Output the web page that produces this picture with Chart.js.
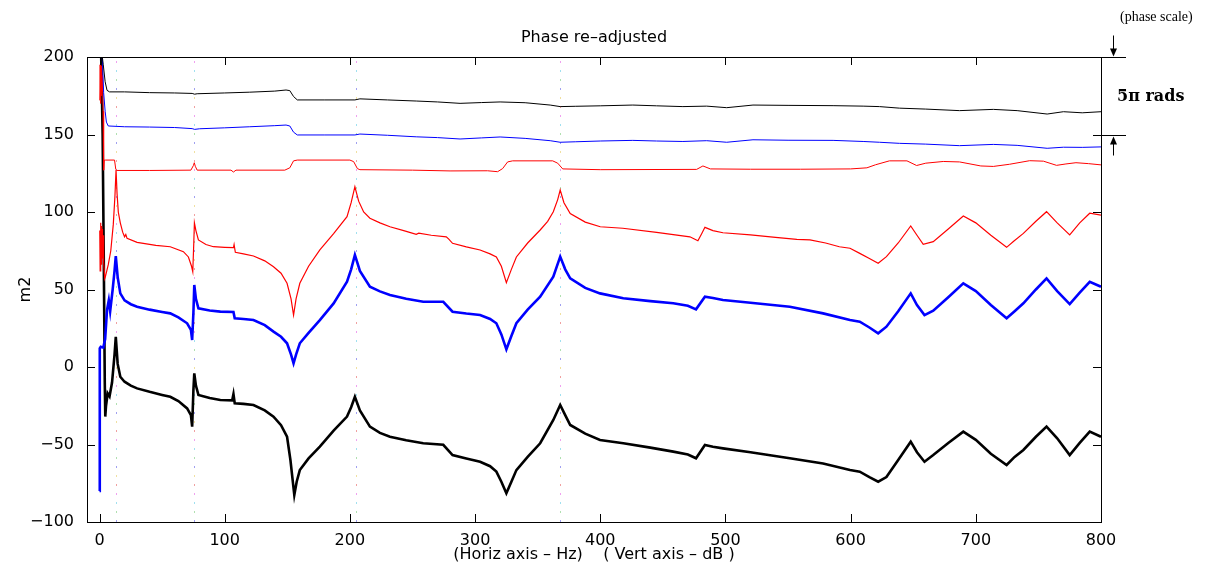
<!DOCTYPE html>
<html>
<head>
<meta charset="utf-8">
<script src="https://cdn.jsdelivr.net/npm/chart.js@4"></script>
<style>
  html, body { margin: 0; padding: 0; background: #fff; }
  #wrap { width: 1205px; height: 570px; }
</style>
</head>
<body>
<div id="wrap"><canvas id="phaseChart" width="1205" height="570"></canvas></div>
<script>
// Frequencies (Hz) and levels, one pair of arrays per trace
const blackPhaseHz = [0, 1.5, 3, 4.5, 6, 8, 20, 40, 60, 74, 76, 78, 100, 120, 140, 149, 152, 155, 158, 180, 204, 208, 230, 253, 270, 288, 305, 320, 340, 360, 368, 380, 400, 426, 445, 466, 485, 501, 522, 550, 586, 610, 623, 639, 660, 687, 714, 733, 757, 770, 785, 800];
const blackPhase = [215, 205, 195, 184, 178.5, 177.5, 177.5, 177, 176.8, 176.5, 176, 176.3, 176.8, 177.3, 178, 178.7, 178.3, 174.5, 172.3, 172.3, 172.3, 173, 172.3, 171.6, 171, 170.1, 170.6, 171, 170.5, 169, 168, 168.2, 168.5, 169, 168.5, 168, 168.3, 167.3, 169, 168.8, 168.6, 168.3, 168, 167, 166.4, 165.4, 166.2, 165.4, 163.2, 164.7, 164, 164.7];

const bluePhaseHz = [2, 3.3, 4.5, 5.5, 7, 20, 40, 60, 74, 76, 80, 100, 120, 140, 149, 152, 155, 158, 180, 204, 208, 230, 253, 270, 288, 305, 320, 340, 360, 368, 380, 400, 426, 445, 466, 485, 501, 522, 550, 586, 610, 623, 639, 660, 687, 714, 733, 757, 770, 785, 800];
const bluePhase = [205, 177, 165, 158, 155.5, 155, 154.8, 154.5, 153.8, 153.3, 153.7, 154.3, 155, 155.7, 156.1, 155.5, 151.5, 149.7, 149.7, 149.7, 150.3, 149.5, 148.5, 148, 147.1, 147.8, 148.4, 147.5, 146, 145, 145.3, 145.8, 146.2, 145.8, 145.5, 146, 145, 146.6, 146.3, 146.2, 145.5, 145, 144.3, 143.8, 142.8, 143.6, 143, 141.1, 141.8, 141.7, 142];

const redPhaseHz = [0.2, 0.5, 0.8, 1.1, 1.4, 1.7, 2.0, 2.4, 2.8, 3.3, 3.8, 5, 12, 13, 14, 40, 73, 75, 75.7, 76.5, 78, 105, 107, 109, 148, 152, 155, 158, 200, 203, 206, 208, 250, 280, 310, 318, 322, 326, 330, 362, 366, 370, 400, 477, 482, 488, 520, 560, 600, 613, 620, 631, 645, 652.7, 660, 674, 687, 704, 714, 727, 743, 754, 764.5, 772, 780, 790, 800];
const redPhase = [172, 195, 170, 192, 175, 194, 178, 188, 165, 127, 133.5, 133.5, 133.5, 127.5, 126.8, 126.8, 127, 130, 131.8, 129.5, 127, 127, 125.8, 127, 127, 128.5, 133, 133.5, 133.5, 132.5, 128, 127.3, 127, 126.5, 126.6, 126, 128, 132.3, 133, 133, 131.5, 127.8, 127.3, 127.5, 129.7, 127.8, 127.6, 127.6, 127.8, 128.5, 130.5, 133, 133, 130, 131.5, 132.6, 132.3, 129.7, 129.4, 130.8, 133.1, 132.8, 130.1, 131, 131.8, 131.2, 130.4];

const redMagHz = [0.2, 0.5, 0.8, 1.1, 1.4, 1.7, 2.0, 2.4, 2.8, 3.3, 4.2, 4.6, 7, 9, 11, 12.3, 13.2, 14, 15, 16.6, 18.5, 20, 21, 22, 30, 45, 56.5, 67, 71, 73.5, 74.5, 75.3, 75.8, 77, 79, 85, 91, 100, 107, 107.5, 108.5, 115, 123, 132, 139, 145, 149.8, 153, 155, 157, 160, 167, 176, 187, 197.7, 201, 204, 207, 211, 216, 224, 232, 243, 253, 255, 265, 277, 279, 282, 293, 304, 312, 317, 321, 325, 329, 333, 342, 352, 358, 362.5, 366, 368, 371, 376, 388, 400, 418, 445, 471.6, 478, 481, 483.6, 490, 498, 520, 540, 557, 567.5, 580, 591, 599.5, 607.3, 615, 622, 628.6, 638, 648, 653, 658, 666, 678, 690, 700, 712, 724.6, 730, 738, 748, 756.5, 765, 775, 783, 791, 800];
const redMag = [88, 62, 93, 64, 91, 66, 89, 70, 85, 68, 57, 58, 66, 75, 92, 110, 127, 112, 100, 93, 87, 84, 85.5, 83, 80.4, 78.5, 77.6, 74.4, 71, 65, 61.5, 80, 93, 88, 82, 79, 77.6, 77.2, 77, 79, 74, 73, 71.6, 68.5, 64.7, 60.5, 54, 44, 33.5, 44, 54, 65, 75.5, 86, 97, 106, 116.3, 107, 100, 96, 93, 90.5, 88, 85.6, 86.3, 85, 84, 82.5, 79.8, 77.5, 75.5, 73, 71, 65, 54.4, 63, 71, 80, 88.4, 94, 100.2, 108, 114.2, 106, 99, 93.5, 90.5, 89.5, 86.8, 84, 81.5, 86, 90.1, 88, 86.6, 85.2, 83.6, 82.4, 82, 80, 77.6, 76.6, 73.3, 70, 66.9, 71.2, 80, 91, 85, 79.2, 80.9, 89, 97.4, 93, 85, 77.2, 81, 86.2, 94, 100.2, 93, 85.2, 93, 99.2, 98];

const blueMagHz = [0, 0.2, 1, 3, 4.5, 6, 7.4, 8.5, 10.5, 12, 13, 14.5, 16.6, 20, 25, 30, 40, 50, 56.5, 63, 70, 73, 74, 75, 75.7, 77, 79, 88, 96.5, 107, 108, 115, 123, 132, 139, 145, 149.8, 153, 155, 157, 160, 167, 176, 187, 197.7, 201, 204, 208, 216, 224, 232, 245, 258.6, 274.6, 282, 293, 304, 312, 317, 321, 325, 329, 333, 342, 352, 362.5, 368, 372, 376, 388, 399.8, 418.4, 440, 458.3, 470, 476.5, 483.6, 490, 498, 520, 551.4, 578, 599.5, 607.3, 615, 622, 628.6, 638, 648, 653, 659, 666, 678, 690, 700, 712, 724.6, 731, 738, 748, 756.5, 765, 775, 783, 791, 800];
const blueMag = [-80, 12, 13, 12.5, 18, 36.8, 43, 36, 50, 62, 71.6, 58, 47.5, 43, 40.5, 38.9, 37, 35.5, 34.6, 32, 28.2, 24, 17.4, 35, 52.9, 44, 37.9, 36.5, 35.7, 35.5, 31.4, 31, 30.3, 27, 22.8, 19.5, 15.3, 8, 2.4, 8, 15.3, 22, 30.3, 41, 55, 63, 72.3, 62, 51.8, 48.8, 46.5, 44, 42.1, 42.1, 35.7, 34.5, 33.5, 31, 28.2, 21, 11.4, 20, 28.2, 37, 45.4, 58.3, 71.2, 63, 57.2, 51, 47.5, 44.3, 42.5, 41.1, 39.5, 37.2, 45.4, 44.5, 43.2, 41.5, 38.9, 34.6, 30.3, 29.2, 25.5, 21.7, 26, 36, 47.5, 40, 33.5, 36.3, 45, 54, 49, 40, 31.4, 36, 41.1, 50, 57.2, 49, 40.6, 48, 55, 51.8];

const blackMagHz = [1, 2.5, 3.5, 4.2, 4.6, 5.2, 6.5, 8, 10, 12, 13, 14.5, 16.6, 20, 25, 30, 40, 50, 56.5, 63, 70, 73, 74, 75, 75.7, 77, 79, 88, 96.5, 106, 107, 108, 115, 123, 132, 139, 145, 149.8, 152.5, 155.6, 157.5, 160, 167, 176, 187, 197.7, 201, 204, 208, 216, 224, 232, 245, 258.6, 274.6, 282, 293, 304, 312, 317, 321, 325, 329, 333, 342, 352, 362.5, 368, 372, 376, 388, 399.8, 418.4, 440, 458.3, 470, 476.5, 483.6, 490, 498, 520, 551.4, 578, 599.5, 607.3, 615, 622, 628.6, 638, 648, 653, 659, 666, 678, 690, 700, 712, 724.6, 731, 738, 748, 756.5, 765, 775, 783, 791, 800];
const blackMag = [215, 150, 60, -10, -32, -25, -17, -19, -10, 8, 19.5, 2, -6.3, -9.5, -12, -13.8, -16, -18, -19.2, -22, -26.7, -31, -38.5, -15, -4.1, -12, -18, -20, -21.3, -21.5, -17.5, -23.4, -23.8, -24.5, -28, -32, -37.5, -45, -60, -82.6, -74, -66.5, -59, -51.4, -41, -32, -26, -19.2, -28, -38.5, -42.5, -45, -47.3, -49.2, -50.2, -56.8, -59, -61.1, -64, -67.5, -74, -81.5, -74, -66.5, -58, -49.2, -34.2, -24.5, -31, -37.4, -43, -47.1, -49.2, -52, -54.6, -56.5, -58.9, -50.3, -51.5, -52.5, -55, -58.9, -62.2, -66.5, -67.5, -71, -74, -71, -60, -48.2, -55, -61.1, -56.8, -49, -41.7, -47, -56, -63.2, -58, -53.5, -45, -38.5, -46, -56.8, -49, -41.7, -45];

// dotted markers at the resonances
const markerHz = [13, 75.5, 204.5, 368];

const xTicks = [0, 100, 200, 300, 400, 500, 600, 700, 800];
const yTicks = [-100, -50, 0, 50, 100, 150, 200];

function pts(xs, ys) {
    return xs.map((x, i) => ({x: x, y: ys[i]}));
}

function trace(data, color, width) {
    return {
        data: data,
        borderColor: color,
        borderWidth: width,
        pointRadius: 0,
        tension: 0,
        fill: false
    };
}

const boxPlugin = {
    id: 'box',
    beforeDatasetsDraw(chart) {
        const ctx = chart.ctx;
        const a = chart.chartArea;
        const xs = chart.scales.x;
        const dotColors = ['#f0a0f0', '#a0e0f0', '#b0e0b0', '#a0a0f0', '#f0e0a0', '#f0a0a0'];
        ctx.save();
        markerHz.forEach(f => {
            const px = Math.round(xs.getPixelForValue(f));
            let k = 0;
            for (let y = a.top + 4; y < a.bottom; y += 9) {
                ctx.fillStyle = dotColors[k % dotColors.length];
                ctx.fillRect(px, y, 1, 2);
                k++;
            }
        });
        ctx.restore();
    },
    afterDraw(chart) {
        const ctx = chart.ctx;
        const a = chart.chartArea;
        const xs = chart.scales.x;
        const ys = chart.scales.y;
        ctx.save();
        ctx.strokeStyle = '#000';
        ctx.lineWidth = 1;
        ctx.strokeRect(a.left + 0.5, a.top + 0.5, a.right - a.left, a.bottom - a.top);
        ctx.beginPath();
        xTicks.forEach(v => {
            const px = Math.round(xs.getPixelForValue(v)) + 0.5;
            ctx.moveTo(px, a.bottom);
            ctx.lineTo(px, a.bottom - 8);
            ctx.moveTo(px, a.top);
            ctx.lineTo(px, a.top + 8);
        });
        yTicks.forEach(v => {
            const py = Math.round(ys.getPixelForValue(v)) + 0.5;
            ctx.moveTo(a.left, py);
            ctx.lineTo(a.left + 8, py);
            ctx.moveTo(a.right, py);
            ctx.lineTo(a.right - 8, py);
        });
        ctx.stroke();

        // title
        ctx.fillStyle = '#000';
        ctx.font = '16px "DejaVu Sans"';
        ctx.textAlign = 'center';
        ctx.textBaseline = 'middle';
        ctx.fillText('Phase re\u2013adjusted', (a.left + a.right) / 2, a.top - 19);

        // phase scale marker on the right
        const yTop = Math.round(ys.getPixelForValue(200)) + 0.5;
        const yBot = Math.round(ys.getPixelForValue(150)) + 0.5;
        const ax = 1113.5;
        ctx.beginPath();
        ctx.moveTo(a.right, yTop);
        ctx.lineTo(1126, yTop);
        ctx.moveTo(a.right, yBot);
        ctx.lineTo(1126, yBot);
        ctx.moveTo(ax, yTop - 22);
        ctx.lineTo(ax, yTop - 6);
        ctx.moveTo(ax, yBot + 20);
        ctx.lineTo(ax, yBot + 6);
        ctx.stroke();
        ctx.beginPath();
        ctx.moveTo(ax, yTop - 1);
        ctx.lineTo(ax - 3.5, yTop - 9);
        ctx.lineTo(ax + 3.5, yTop - 9);
        ctx.closePath();
        ctx.moveTo(ax, yBot + 1);
        ctx.lineTo(ax - 3.5, yBot + 9);
        ctx.lineTo(ax + 3.5, yBot + 9);
        ctx.closePath();
        ctx.fill();

        ctx.textAlign = 'left';
        ctx.font = '14px "Liberation Serif"';
        ctx.fillText('(phase scale)', 1120, 17);
        ctx.font = 'bold 16px "DejaVu Serif"';
        ctx.fillText('5\u03c0 rads', 1117, (yTop + yBot) / 2);
        ctx.restore();
    }
};

const chart = new Chart(document.getElementById('phaseChart'), {
    type: 'line',
    data: {
        datasets: [
            trace(pts(blackPhaseHz, blackPhase), '#000000', 1),
            trace(pts(bluePhaseHz, bluePhase), '#0000ff', 1),
            trace(pts(redPhaseHz, redPhase), '#ff0000', 1),
            trace(pts(redMagHz, redMag), '#ff0000', 1.2),
            trace(pts(blueMagHz, blueMag), '#0000ff', 2.6),
            trace(pts(blackMagHz, blackMag), '#000000', 2.6)
        ]
    },
    options: {
        responsive: false,
        animation: false,
        layout: {
            padding: {top: 57, right: 104, left: 0, bottom: 0}
        },
        plugins: {
            legend: {display: false},
            tooltip: {enabled: false}
        },
        scales: {
            x: {
                type: 'linear',
                min: -10,
                max: 800,
                afterFit: s => { s.height = 48; },
                afterBuildTicks: s => { s.ticks = xTicks.map(v => ({value: v})); },
                grid: {display: false},
                border: {display: false},
                ticks: {
                    padding: 1,
                    color: '#000',
                    font: {family: 'DejaVu Sans', size: 16},
                    maxRotation: 0
                },
                title: {
                    display: true,
                    text: '(Horiz axis \u2013 Hz)    ( Vert axis \u2013 dB )',
                    color: '#000',
                    font: {family: 'DejaVu Sans', size: 16},
                    padding: {top: 0, bottom: 6}
                }
            },
            y: {
                type: 'linear',
                min: -100,
                max: 200,
                afterFit: s => { s.width = 87; },
                afterBuildTicks: s => { s.ticks = yTicks.map(v => ({value: v})); },
                grid: {display: false},
                border: {display: false},
                ticks: {
                    padding: 5,
                    color: '#000',
                    font: {family: 'DejaVu Sans', size: 16},
                    callback: v => v < 0 ? '\u2212' + Math.abs(v) : String(v)
                },
                title: {
                    display: true,
                    text: 'm2',
                    color: '#000',
                    font: {family: 'DejaVu Sans', size: 16},
                    padding: {top: 16, bottom: 0}
                }
            }
        }
    },
    plugins: [boxPlugin]
});
</script>
</body>
</html>
